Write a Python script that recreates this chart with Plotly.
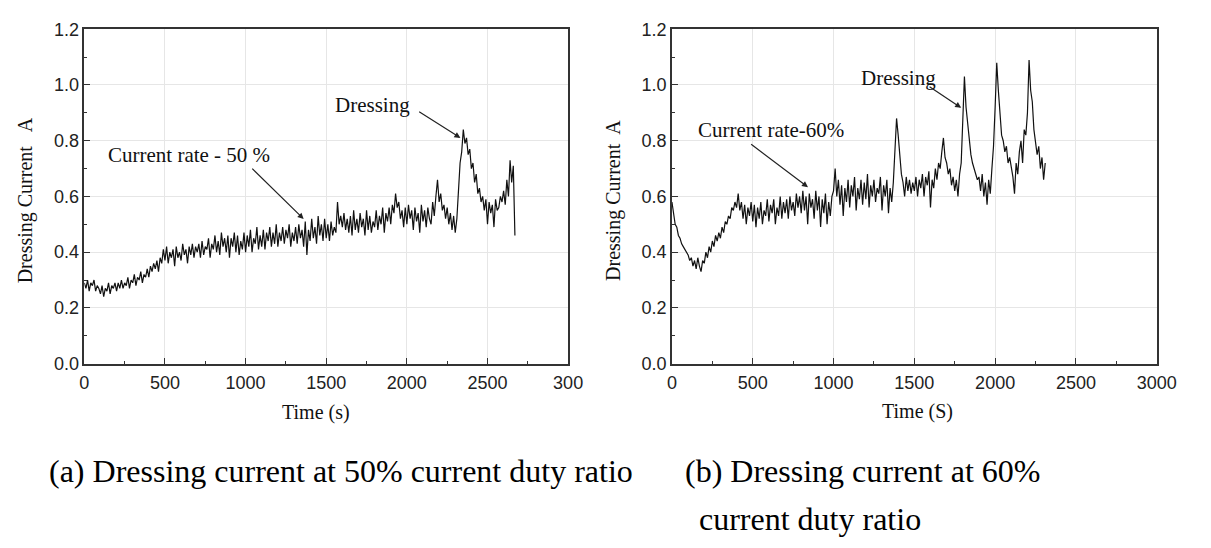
import plotly.graph_objects as go

# ---- data (a) 50% duty ratio, sampled every 10 s ----
time_a = list(range(0, 2680, 10))
current_a = [
    0.29, 0.27, 0.30, 0.26, 0.29, 0.28, 0.30, 0.26, 0.28, 0.27,
    0.25, 0.28, 0.24, 0.27, 0.26, 0.29, 0.25, 0.28, 0.27, 0.29,
    0.26, 0.29, 0.27, 0.30, 0.27, 0.29, 0.28, 0.31, 0.27, 0.30,
    0.29, 0.32, 0.28, 0.31, 0.30, 0.33, 0.29, 0.32, 0.31, 0.34,
    0.31, 0.35, 0.33, 0.36, 0.34, 0.37, 0.33, 0.38, 0.36, 0.41,
    0.37, 0.42, 0.36, 0.40, 0.38, 0.41, 0.35, 0.42, 0.38, 0.40,
    0.37, 0.43, 0.39, 0.41, 0.36, 0.42, 0.39, 0.43, 0.38, 0.42,
    0.40, 0.43, 0.38, 0.44, 0.39, 0.42, 0.41, 0.45, 0.38, 0.43,
    0.41, 0.46, 0.40, 0.44, 0.39, 0.47, 0.42, 0.45, 0.40, 0.46,
    0.38, 0.45, 0.42, 0.47, 0.40, 0.46, 0.39, 0.44, 0.41, 0.47,
    0.40, 0.46, 0.42, 0.48, 0.40, 0.45, 0.43, 0.49, 0.41, 0.46,
    0.42, 0.48, 0.41, 0.47, 0.44, 0.49, 0.42, 0.47, 0.43, 0.50,
    0.42, 0.47, 0.44, 0.49, 0.43, 0.48, 0.45, 0.50, 0.42, 0.47,
    0.44, 0.49, 0.43, 0.50, 0.45, 0.48, 0.42, 0.51, 0.39, 0.48,
    0.44, 0.52, 0.45, 0.49, 0.43, 0.53, 0.46, 0.50, 0.44, 0.52,
    0.45, 0.50, 0.44, 0.51, 0.46, 0.49, 0.47, 0.58, 0.50, 0.53,
    0.49, 0.54, 0.48, 0.52, 0.47, 0.53, 0.46, 0.55, 0.48, 0.52,
    0.47, 0.54, 0.49, 0.52, 0.46, 0.55, 0.48, 0.53, 0.47, 0.51,
    0.49, 0.55, 0.48, 0.53, 0.50, 0.56, 0.47, 0.54, 0.51, 0.56,
    0.50, 0.57, 0.54, 0.61, 0.56, 0.58, 0.52, 0.55, 0.49, 0.56,
    0.50, 0.57, 0.52, 0.55, 0.48, 0.56, 0.51, 0.54, 0.47, 0.57,
    0.51, 0.55, 0.49, 0.56, 0.52, 0.50, 0.58, 0.53, 0.60, 0.66,
    0.58, 0.61, 0.55, 0.57, 0.52, 0.56, 0.50, 0.54, 0.48, 0.53,
    0.47, 0.52, 0.62, 0.72, 0.76, 0.84, 0.79, 0.81, 0.75, 0.77,
    0.70, 0.72, 0.65, 0.68, 0.61, 0.63, 0.58, 0.60, 0.55, 0.59,
    0.50, 0.58, 0.54, 0.57, 0.49, 0.59, 0.55, 0.56, 0.60, 0.58,
    0.62, 0.57, 0.66, 0.60, 0.73, 0.65, 0.71, 0.46,
]

# ---- data (b) 60% duty ratio, sampled every 10 s ----
time_b = list(range(0, 2320, 10))
current_b = [
    0.58, 0.53, 0.50, 0.49, 0.46, 0.45, 0.43, 0.42, 0.41, 0.40,
    0.39, 0.37, 0.38, 0.35, 0.37, 0.34, 0.38, 0.35, 0.33, 0.37,
    0.36, 0.40, 0.38, 0.42, 0.40, 0.44, 0.42, 0.46, 0.44, 0.47,
    0.45, 0.49, 0.47, 0.51, 0.50, 0.53, 0.52, 0.56, 0.55, 0.58,
    0.56, 0.61, 0.55, 0.58, 0.52, 0.57, 0.50, 0.56, 0.53, 0.58,
    0.51, 0.57, 0.49, 0.56, 0.52, 0.58, 0.50, 0.55, 0.53, 0.59,
    0.51, 0.57, 0.54, 0.59, 0.50, 0.56, 0.53, 0.60, 0.52, 0.58,
    0.54, 0.59, 0.52, 0.60, 0.55, 0.58, 0.53, 0.61, 0.56, 0.60,
    0.54, 0.62, 0.55, 0.60, 0.50, 0.61, 0.56, 0.59, 0.52, 0.62,
    0.55, 0.60, 0.49, 0.59, 0.54, 0.61, 0.50, 0.58, 0.53, 0.60,
    0.62, 0.70, 0.60, 0.66, 0.57, 0.64, 0.53, 0.63, 0.58, 0.66,
    0.56, 0.64, 0.60, 0.67, 0.55, 0.63, 0.59, 0.66, 0.57, 0.65,
    0.59, 0.68, 0.56, 0.64, 0.60, 0.66, 0.58, 0.63, 0.61, 0.67,
    0.55, 0.64, 0.60, 0.66, 0.54, 0.63, 0.58, 0.65, 0.76, 0.88,
    0.82, 0.74, 0.68, 0.65, 0.60, 0.67, 0.62, 0.66, 0.61, 0.65,
    0.62, 0.67, 0.60, 0.66, 0.63, 0.68, 0.60, 0.67, 0.64, 0.69,
    0.56, 0.66, 0.63, 0.70, 0.66, 0.72, 0.70, 0.76, 0.81, 0.74,
    0.72, 0.68, 0.70, 0.64, 0.67, 0.62, 0.66, 0.60, 0.68, 0.72,
    0.86, 1.03, 0.92, 0.86, 0.79, 0.75, 0.72, 0.70, 0.68, 0.66,
    0.67, 0.62, 0.68, 0.60, 0.65, 0.57, 0.66, 0.61, 0.70, 0.78,
    0.92, 1.08, 0.98, 0.90, 0.82, 0.80, 0.76, 0.78, 0.72, 0.74,
    0.70, 0.67, 0.61, 0.72, 0.68, 0.76, 0.80, 0.72, 0.84, 0.82,
    0.90, 1.09, 0.98, 0.94, 0.84, 0.79, 0.75, 0.78, 0.70, 0.74,
    0.66, 0.72,
]

x_tickvals = [0, 500, 1000, 1500, 2000, 2500, 3000]
x_ticktext_a = ["0", "500", "1000", "1500", "2000", "2500", "300"]
x_ticktext_b = ["0", "500", "1000", "1500", "2000", "2500", "3000"]
y_tickvals = [0.0, 0.2, 0.4, 0.6, 0.8, 1.0, 1.2]

W, H = 1211, 548
SERIF = "Liberation Serif, Times New Roman, serif"
SANS = "Liberation Sans, Arial, sans-serif"

def px(x):
    return x / W

def py(y):
    return 1 - y / H

fig = go.Figure()
fig.add_trace(go.Scatter(x=time_a, y=current_a, mode="lines",
                         line=dict(color="#111111", width=1.2), xaxis="x", yaxis="y",
                         showlegend=False))
fig.add_trace(go.Scatter(x=time_b, y=current_b, mode="lines",
                         line=dict(color="#111111", width=1.2), xaxis="x2", yaxis="y2",
                         showlegend=False))

common_x = dict(range=[0, 3000], tickvals=x_tickvals, ticks="inside", ticklen=6,
                tickwidth=1.2, tickcolor="#333", showline=True, linecolor="#333",
                linewidth=1.5, mirror=True, showgrid=True, gridcolor="#e6e6e6",
                gridwidth=1, zeroline=False, ticklabelstandoff=2,
                tickfont=dict(family=SANS, size=18, color="#222"),
                minor=dict(ticks="inside", ticklen=3, dtick=250, tick0=0,
                           tickcolor="#333", showgrid=False))
common_y = dict(range=[0, 1.2], tickvals=y_tickvals, tickformat=".1f", ticks="inside",
                ticklen=6, tickwidth=1.2, tickcolor="#333", showline=True,
                linecolor="#333", linewidth=1.5, mirror=True, showgrid=True,
                gridcolor="#e6e6e6", gridwidth=1, zeroline=False,
                tickfont=dict(family=SANS, size=18, color="#222"),
                minor=dict(ticks="inside", ticklen=3, dtick=0.1, tick0=0,
                           tickcolor="#333", showgrid=False))

fig.update_layout(
    width=W, height=H,
    margin=dict(l=0, r=0, t=0, b=0),
    paper_bgcolor="white", plot_bgcolor="white",
    xaxis=dict(domain=[px(81), px(575)], anchor="y", ticktext=x_ticktext_a, **common_x),
    yaxis=dict(domain=[py(367), py(20)], anchor="x", **common_y),
    xaxis2=dict(domain=[px(681), px(1176)], anchor="y2", ticktext=x_ticktext_b, **common_x),
    yaxis2=dict(domain=[py(367), py(20)], anchor="x2", **common_y),
)

C = dict(xanchor="center", yanchor="middle", showarrow=False)
ann = []
# axis titles
ann.append(dict(text="Dressing Current   A", x=px(21), y=py(198), xref="paper", yref="paper",
                textangle=-90, font=dict(family=SERIF, size=20, color="#111"), **C))
ann.append(dict(text="Dressing Current  A", x=px(622), y=py(198), xref="paper", yref="paper",
                textangle=-90, font=dict(family=SERIF, size=20, color="#111"), **C))
ann.append(dict(text="Time (s)", x=px(318), y=py(418), xref="paper", yref="paper",
                font=dict(family=SERIF, size=20, color="#111"), **C))
ann.append(dict(text="Time (S)", x=px(932), y=py(417), xref="paper", yref="paper",
                font=dict(family=SERIF, size=20, color="#111"), **C))

# in-plot labels
ann.append(dict(text="Current rate - 50 %", x=650, y=0.747, xref="x", yref="y",
                font=dict(family=SERIF, size=21, color="#111"), **C))
ann.append(dict(text="Dressing", x=1789, y=0.928, xref="x", yref="y",
                font=dict(family=SERIF, size=21, color="#111"), **C))
ann.append(dict(text="Current rate-60%", x=616, y=0.839, xref="x2", yref="y2",
                font=dict(family=SERIF, size=21, color="#111"), **C))
ann.append(dict(text="Dressing", x=1401, y=1.025, xref="x2", yref="y2",
                font=dict(family=SERIF, size=21, color="#111"), **C))

# arrows
for (xr, yr, tx, ty, hx, hy) in [
    ("x", "y", 1032, 0.705, 1360, 0.519),
    ("x", "y", 2067, 0.907, 2332, 0.810),
    ("x2", "y2", 481, 0.791, 842, 0.633),
    ("x2", "y2", 1585, 0.997, 1790, 0.918),
]:
    ann.append(dict(text="", x=hx, y=hy, ax=tx, ay=ty, xref=xr, yref=yr,
                    axref=xr, ayref=yr, showarrow=True, arrowhead=2, arrowsize=1,
                    arrowwidth=1.2, arrowcolor="#222"))

# captions
L = dict(xanchor="left", yanchor="middle", showarrow=False)
ann.append(dict(text="(a) Dressing current at 50% current duty ratio", x=px(43), y=py(478),
                xref="paper", yref="paper", font=dict(family=SERIF, size=32, color="#000"), **L))
ann.append(dict(text="(b) Dressing current at 60%", x=px(692), y=py(478),
                xref="paper", yref="paper", font=dict(family=SERIF, size=32, color="#000"), **L))
ann.append(dict(text="current duty ratio", x=px(707), y=py(528),
                xref="paper", yref="paper", font=dict(family=SERIF, size=32, color="#000"), **L))

fig.update_layout(annotations=ann)
fig.write_html("out.html")
